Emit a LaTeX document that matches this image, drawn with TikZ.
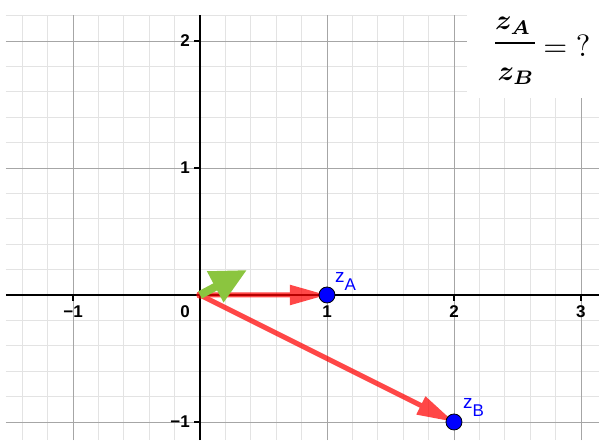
\documentclass[tikz,border=0pt]{standalone}
\usepackage{fontspec}
\setsansfont{Liberation Sans}
\usepackage{amsmath,bm}
\usetikzlibrary{arrows.meta}
\definecolor{ggred}{RGB}{255,0,0}
\definecolor{gggreen}{RGB}{139,197,63}
\definecolor{ggblue}{RGB}{0,0,255}

\begin{document}
\begin{tikzpicture}[x=127pt, y=127pt,
    minor/.style={gray!22, line width=0.8pt},
    major/.style={gray!70, line width=0.9pt},
    axis/.style={black, line width=2.2pt},
    tickmark/.style={black, line width=1.1pt},
    num/.style={font=\fontsize{17}{17}\sffamily\bfseries, inner sep=0pt},
    vec/.style={ggred, line width=5pt, -{Triangle[length=37pt,width=19pt]}},
    gvec/.style={gggreen, line width=8pt, -{Triangle[length=36pt,width=33pt]}},
    pt/.style={circle, draw=black, line width=0.8pt, fill=ggblue, minimum size=16pt, inner sep=0pt},
    lbl/.style={ggblue, font=\fontsize{19}{19}\sffamily, inner sep=0pt, anchor=base west},
    eq/.style={font=\normalsize, scale=2.8, transform shape, inner sep=0pt, anchor=base}]
    \fill[white] (-1.575,-1.142) rectangle (3.142,2.323);
    \useasboundingbox (-1.575,-1.142) rectangle (3.142,2.323);
    \draw[minor] (-1.528,-1.142) grid[step=0.2] (3.142,2.205);
    \draw[major] (-1.528,-1.142) grid[step=1] (3.142,2.205);
    \draw[axis] (-1.528,0) -- (3.142,0);
    \draw[axis] (0,-1.142) -- (0,2.205);
    \foreach \x in {-1,1,2,3} \draw[tickmark] (\x,0) -- (\x,-0.05);
    \foreach \y in {-1,1,2} \draw[tickmark] (0,\y) -- (-0.05,\y);
    \foreach \x/\t [count=\i] in {-1/−1,1/1,2/2,3/3}
        \node[num] (xl\i) at (\x,-0.134) {\t};
    \foreach \y/\t [count=\i] in {-1/−1,1/1,2/2}
        \node[num, anchor=east] (yl\i) at (-0.079,\y) {\t};
    \node[num] (zero) at (-0.118,-0.134) {0};
    \fill[white] (2.10,1.55) rectangle (3.142,2.323);

    \coordinate (O) at (0,0);
    \coordinate (A) at (1,0);
    \coordinate (B) at (2,-1);
    \coordinate (G) at (0.370,0.197);
    \begin{scope}[transparency group, opacity=0.72]
        \draw[vec] (O) -- (A);
        \draw[vec] (O) -- (B);
        \fill[ggred] (O) circle (3.8pt);
    \end{scope}
    \draw[gvec] (O) -- (G);
    \node[pt] (zA) at (A) {};
    \node[pt] (zB) at (B) {};
    \node[lbl] (lA) at (1.063,0.102) {z\raisebox{-8pt}{\fontsize{17}{17}\selectfont A}};
    \node[lbl] (lB) at (2.071,-0.890) {z\raisebox{-8.5pt}{\fontsize{17}{17}\selectfont B}};

    \node[eq] (nom) at (2.465,2.087) {$\bm{z}_{\bm{A}}$};
    \node[eq] (den) at (2.488,1.693) {$\bm{z}_{\bm{B}}$};
    \draw[line width=2.2pt] (2.323,1.984) -- (2.638,1.984);
    \node[eq, scale=1.1, anchor=base west] (rhs) at (2.70,1.875) {$=\mathord{?}$};
\end{tikzpicture}
\end{document}
